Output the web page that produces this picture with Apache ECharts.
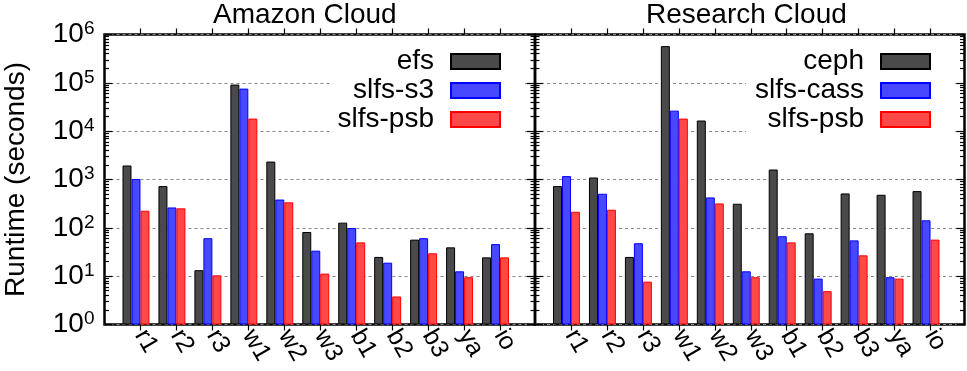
<!DOCTYPE html>
<html>
<head>
<meta charset="utf-8">
<script src="https://cdn.jsdelivr.net/npm/echarts@6/dist/echarts.min.js"></script>
<style>
  html, body { margin: 0; padding: 0; background: #fff; }
  #chart { width: 967px; height: 371px; }
</style>
</head>
<body>
<div id="chart"></div>
<script>
// benchmark names on the x axis
const categories = ['r1', 'r2', 'r3', 'w1', 'w2', 'w3', 'b1', 'b2', 'b3', 'ya', 'io'];

// Amazon Cloud runtimes (seconds)
const amazonEfs = [1950, 730, 13.3, 92000, 2350, 82, 128, 25, 57, 39.5, 24.5];
const amazonS3 = [1020, 264, 61, 76000, 385, 33.7, 99, 19, 61, 12.6, 46];
const amazonPsb = [226, 253, 10.4, 18200, 337, 11.3, 50, 3.8, 29.7, 9.5, 24.5];

// Research Cloud runtimes (seconds)
const researchCeph = [730, 1100, 25, 575000, 16600, 315, 1610, 77, 515, 483, 575];
const researchCass = [1175, 507, 48, 26600, 426, 12.6, 67, 8.9, 55, 9.5, 143];
const researchPsb = [215, 237, 7.7, 18200, 320, 9.5, 50, 4.9, 27, 8.9, 57];

// y ticks (log scale)
const majorTicks = [1, 10, 100, 1000, 10000, 100000, 1000000];
const minorTicks = [];
for (let d = 0; d < 6; d++) {
  for (let m = 2; m <= 9; m++) minorTicks.push(m * Math.pow(10, d));
}

const FONT = 'Liberation Sans';
const TOP = 34.5, H = 290;
const DARK = '#4a4a4a', BLUE = '#4848ff', RED = '#ff4848';

let chart = echarts.init(document.getElementById('chart'), null, { renderer: 'canvas' });

function grid(left, width, frame) {
  return {
    left: left, top: TOP, width: width, height: H,
    show: frame, borderColor: '#000', borderWidth: frame ? 2.5 : 0,
    backgroundColor: 'transparent', containLabel: false, outerBoundsMode: 'none'
  };
}

// y axis on the frame grid: ticks only (major or minor)
function tickAxis(gridIndex, position, values, len, extra) {
  return Object.assign({
    type: 'log', logBase: 10, min: 1, max: 1000000, gridIndex: gridIndex, position: position,
    axisLine: { show: false },
    axisTick: { show: true, inside: true, length: len, customValues: values, lineStyle: { color: '#000', width: 1.2 } },
    axisLabel: { show: false },
    splitLine: { show: false },
    silent: true
  }, extra || {});
}

function splitDash() {
  return { show: true, lineStyle: { color: '#888', type: [3, 3], width: 1 } };
}

function barAxis(gridIndex, position, withLabel) {
  return {
    type: 'category', data: categories, gridIndex: gridIndex, position: position,
    boundaryGap: true,
    axisLine: { show: false },
    axisTick: { show: true, alignWithLabel: true, inside: false, length: 6, lineStyle: { color: '#000', width: 1.2 } },
    axisLabel: withLabel ? {
      show: true, rotate: -60, margin: 7, interval: 0,
      fontFamily: FONT, fontSize: 25, color: '#000'
    } : { show: false },
    splitLine: { show: false }
  };
}

function bars(name, data, xi, yi, fill, border) {
  return {
    type: 'bar', name: name, data: data, xAxisIndex: xi, yAxisIndex: yi,
    barGap: '0%', barCategoryGap: '0%',
    itemStyle: { color: fill, borderColor: border, borderWidth: 1 },
    emphasis: { disabled: true }, silent: true
  };
}

// empty 4th slot keeps the gap after each cluster
function spacer(xi, yi) {
  return { type: 'bar', name: 'gap', data: categories.map(() => '-'), xAxisIndex: xi, yAxisIndex: yi,
    barGap: '0%', barCategoryGap: '0%', silent: true };
}

function legend(names, right, pad) {
  return {
    data: names, orient: 'vertical', align: 'right', right: right, top: 40,
    padding: pad, itemGap: 0, itemWidth: 49, itemHeight: 15, icon: 'rect',
    backgroundColor: '#fff', selectedMode: false,
    textStyle: { fontFamily: FONT, fontSize: 28, color: '#000', lineHeight: 29, padding: [0, 12, 0, 0] }
  };
}

let option = {
  animation: false,
  backgroundColor: '#fff',
  title: [
    { text: 'Amazon Cloud', left: 213, top: 1, padding: 0,
      textStyle: { fontFamily: FONT, fontSize: 28, fontWeight: 'normal', color: '#000' } },
    { text: 'Research Cloud', left: 646, top: 1, padding: 0,
      textStyle: { fontFamily: FONT, fontSize: 28, fontWeight: 'normal', color: '#000' } }
  ],
  legend: [
    legend(['efs', 'slfs-s3', 'slfs-psb'], 442, [7, 24, 5, 5]),
    legend(['ceph', 'slfs-cass', 'slfs-psb'], 12, [7, 24, 5, 9])
  ],
  grid: [
    grid(104.5, 430.5, true),
    grid(122.5, 395.5, false),
    grid(535, 429.5, true),
    grid(553, 395.5, false)
  ],
  xAxis: [
    { type: 'value', gridIndex: 0, min: 0, max: 1, show: false },
    barAxis(1, 'bottom', true),
    barAxis(1, 'top', false),
    { type: 'value', gridIndex: 2, min: 0, max: 1, show: false },
    barAxis(3, 'bottom', true),
    barAxis(3, 'top', false)
  ],
  yAxis: [
    tickAxis(0, 'left', majorTicks, 8, {
      splitLine: splitDash(),
      name: 'Runtime (seconds)', nameLocation: 'middle', nameGap: 74, nameRotate: 90,
      nameTextStyle: { fontFamily: FONT, fontSize: 28, color: '#000' },
      axisLabel: {
        show: true, margin: 10, customValues: majorTicks, showMinLabel: true, showMaxLabel: true,
        fontFamily: FONT, fontSize: 28, color: '#000', lineHeight: 30,
        formatter: function (v) { return '10{s|' + Math.round(Math.log10(v)) + '}'; },
        rich: { s: { fontFamily: FONT, fontSize: 19, color: '#000', verticalAlign: 'top', lineHeight: 18 } }
      }
    }),
    tickAxis(0, 'left', minorTicks, 4.5),
    tickAxis(0, 'right', majorTicks, 8),
    tickAxis(0, 'right', minorTicks, 4.5),
    { type: 'log', logBase: 10, min: 1, max: 1000000, gridIndex: 1, show: false },
    tickAxis(2, 'left', majorTicks, 8, { splitLine: splitDash() }),
    tickAxis(2, 'left', minorTicks, 4.5),
    tickAxis(2, 'right', majorTicks, 8),
    tickAxis(2, 'right', minorTicks, 4.5),
    { type: 'log', logBase: 10, min: 1, max: 1000000, gridIndex: 3, show: false }
  ],
  series: [
    bars('efs', amazonEfs, 1, 4, DARK, '#000'),
    bars('slfs-s3', amazonS3, 1, 4, BLUE, '#0000ff'),
    bars('slfs-psb', amazonPsb, 1, 4, RED, '#ff0000'),
    spacer(1, 4),
    bars('ceph', researchCeph, 4, 9, DARK, '#000'),
    bars('slfs-cass', researchCass, 4, 9, BLUE, '#0000ff'),
    bars('slfs-psb', researchPsb, 4, 9, RED, '#ff0000'),
    spacer(4, 9)
  ]
};

chart.setOption(option);
</script>
</body>
</html>
